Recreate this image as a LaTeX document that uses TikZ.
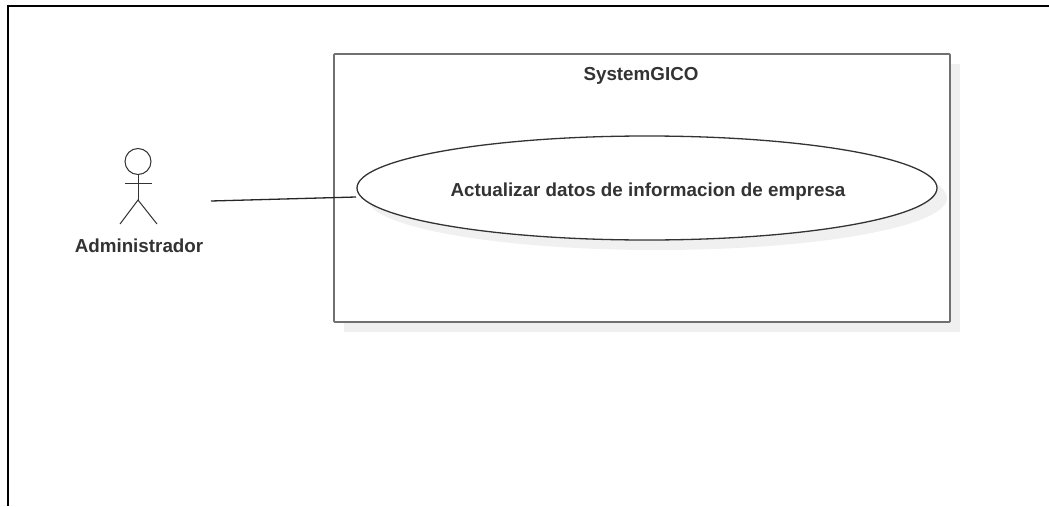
\documentclass[tikz,border=0pt]{standalone}
\usepackage{fontspec}
\setmainfont{Liberation Sans}
\usetikzlibrary{shapes.geometric}
\definecolor{inkdark}{HTML}{333333}
\definecolor{shadowgrey}{HTML}{F0F0F0}
\definecolor{boxgrey}{HTML}{707070}
\tikzset{
  x=1pt,y=-1pt,
  systembox/.style={rectangle,draw=boxgrey,fill=white,line width=1.8pt,rounded corners=0.8pt,minimum width=616pt,minimum height=268pt,inner sep=0pt,outer sep=0pt},
  boxshadow/.style={rectangle,fill=shadowgrey,minimum width=616pt,minimum height=268pt,inner sep=0pt,outer sep=0pt},
  usecase/.style={ellipse,draw=inkdark,fill=white,line width=1.3pt,minimum width=580pt,minimum height=104pt,inner sep=0pt,outer sep=0pt},
  caseshadow/.style={ellipse,fill=shadowgrey,minimum width=580pt,minimum height=104pt,inner sep=0pt,outer sep=0pt},
  label/.style={text=inkdark,font=\bfseries\fontsize{18.8}{22}\selectfont,inner sep=0pt},
  stick/.style={draw=inkdark,line width=1pt},
  actorarea/.style={rectangle,minimum width=146pt,minimum height=96pt,inner sep=0pt,outer sep=0pt},
  assoc/.style={draw=black!85,line width=1.3pt},
  frameline/.style={draw=black,line width=2pt}
}
\begin{document}
\begin{tikzpicture}
\useasboundingbox (0,0) rectangle (1049,506);
\fill[white] (0,0) rectangle (1049,506);
\coordinate (frameTL) at (7.5,5.5);
\coordinate (frameTR) at (1049,5.5);
\coordinate (frameBL) at (7.5,506);
\draw[frameline] (frameBL) -- (frameTL) -- (frameTR);
\node[boxshadow] (sysshadow) at (652,198) {};
\node[systembox] (system) at (642,188) {};
\node[label] (systitle) at (641,76) {SystemGICO};
\node[caseshadow] (caseshadownode) at (657,198) {};
\node[usecase] (case) at (647,188) {};
\node[label] (casetext) at (648,191.5) {Actualizar datos de informacion de empresa};
\node[actorarea] (actor) at (138,201) {};
\node[stick,circle,minimum size=26pt,inner sep=0pt,outer sep=0pt] (head) at (138,161.5) {};
\coordinate (hip) at (138,200);
\coordinate (armL) at (125,183);
\coordinate (armR) at (151.5,183);
\coordinate (footL) at (120,224);
\coordinate (footR) at (157,224);
\draw[stick] (head.south) -- (hip);
\draw[stick] (armL) -- (armR);
\draw[stick] (footL) -- (hip) -- (footR);
\node[label] (actorlabel) at (139,245.5) {Administrador};
\draw[assoc] (actor.east) -- ([xshift=-1pt,yshift=-9pt]case.west);
\end{tikzpicture}
\end{document}
